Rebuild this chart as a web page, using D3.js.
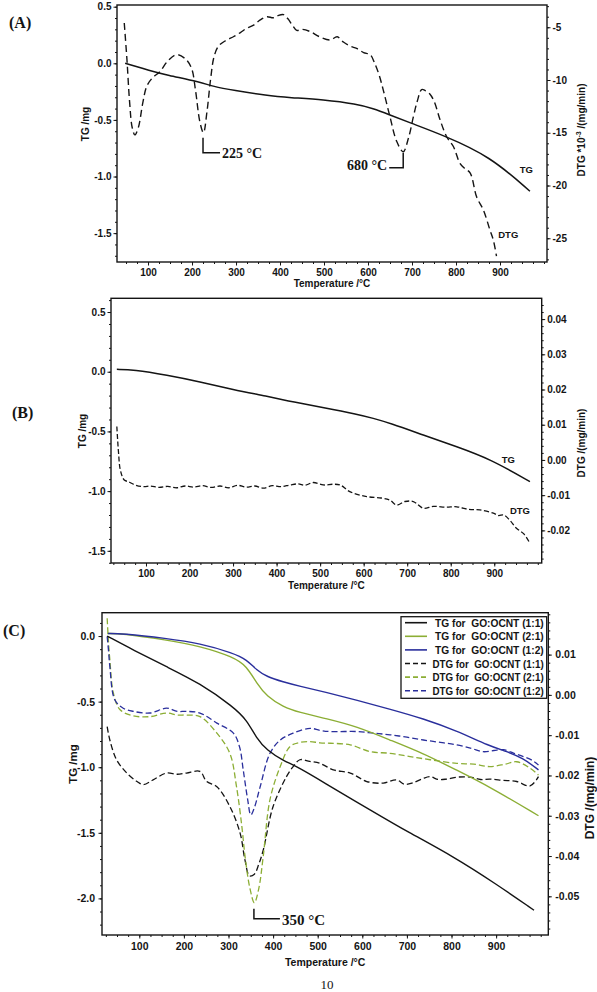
<!DOCTYPE html>
<html><head><meta charset="utf-8">
<script src="https://cdn.jsdelivr.net/npm/d3@7"></script>
<style>body{margin:0;background:#fff}svg{display:block}</style></head>
<body><svg id="c" width="597" height="992"></svg>
<script>
// ---------- DATA ----------
const tempTicks = [100,200,300,400,500,600,700,800,900];
const aTgTicks = [-1.5,-1.0,-0.5,0.0,0.5];
const aDtgTicks = [-25,-20,-15,-10,-5];
const bTgTicks = [-1.5,-1.0,-0.5,0.0,0.5];
const bDtgTicks = [-0.02,-0.01,0.00,0.01,0.02,0.03,0.04];
const cTgTicks = [-2.0,-1.5,-1.0,-0.5,0.0];
const cDtgTicks = [-0.05,-0.04,-0.03,-0.02,-0.01,0.00,0.01];

// Panel A (TG in mg, DTG in 10^-3 mg/min)
const aTgT = [48,105,142,218,248,294,370,423,498,574,612,646,695,771,877,968];
const aTgV = [0,-0.065,-0.103,-0.165,-0.205,-0.238,-0.285,-0.303,-0.322,-0.36,-0.40,-0.45,-0.525,-0.635,-0.82,-1.13];
const aDtgT = [46,52,58,64,70,78,88,97,110,127,145,165,185,199,208,218,226,234,242,250,260,275,294,310,324,340,355,370,385,395,408,418,428,438,450,468,490,514,530,544,560,574,590,605,615,625,635,650,665,680,692,703,712,722,730,740,750,764,779,794,809,820,832,847,862,877,885,892];
const aDtgV = [-4.6,-8,-12,-14.5,-15.2,-14.5,-12.2,-10.6,-9.8,-9.2,-8.2,-7.6,-8.0,-8.9,-11,-14,-15.0,-13,-10.0,-7.8,-6.8,-6.3,-5.9,-5.5,-5.1,-4.8,-4.3,-4.0,-4.1,-3.9,-3.8,-4.2,-4.8,-5.3,-5.2,-5.4,-5.9,-6.2,-5.9,-6.4,-6.8,-7.0,-7.4,-7.6,-8.4,-9.5,-11,-13.5,-15.8,-16.8,-15.5,-13.5,-12,-10.9,-11,-11.3,-12,-13.8,-15.4,-16.3,-17.9,-18.4,-18.8,-21.1,-22.3,-24.2,-25.2,-26.7];

// Panel B (TG in mg, DTG in mg/min)
const bTgT = [33,71,148,224,300,377,440,507,584,622,660,737,814,890,982];
const bTgV = [0.02,0.018,-0.028,-0.084,-0.15,-0.205,-0.255,-0.30,-0.355,-0.39,-0.43,-0.53,-0.628,-0.73,-0.92];
const bDtgT = [33,37,41,50,60,75,95,110,130,150,170,190,210,230,250,270,290,310,330,350,370,390,410,431,450,465,484,507,530,546,568,607,640,660,676,695,714,737,760,790,814,840,867,898,910,921,935,951,968,982];
const bDtgV = [0.0095,0.0019,-0.0028,-0.0057,-0.0062,-0.0071,-0.0076,-0.0074,-0.0078,-0.0075,-0.0079,-0.0074,-0.0077,-0.0073,-0.0078,-0.0074,-0.0079,-0.0072,-0.0077,-0.0074,-0.0080,-0.0073,-0.0076,-0.0071,-0.0068,-0.0072,-0.0064,-0.0071,-0.0069,-0.0071,-0.0090,-0.0104,-0.0108,-0.0114,-0.0128,-0.0118,-0.0118,-0.0137,-0.0132,-0.0134,-0.0133,-0.0140,-0.0142,-0.0151,-0.0158,-0.0156,-0.0170,-0.0194,-0.0210,-0.0237];

// Panel C
const cTg11T = [28,87,161,236,311,341,363,386,423,457,530,620,700,804,900,985];
const cTg11V = [0.0,-0.107,-0.234,-0.36,-0.54,-0.64,-0.78,-0.87,-0.95,-1.0,-1.15,-1.33,-1.49,-1.68,-1.89,-2.09];
const cTg21T = [28,60,161,236,311,341,363,386,423,457,520,588,660,737,810,886,995];
const cTg21V = [0.02,0.02,-0.03,-0.076,-0.16,-0.23,-0.36,-0.46,-0.54,-0.58,-0.63,-0.69,-0.79,-0.895,-1.02,-1.15,-1.37];
const cTg12T = [30,60,161,236,311,341,363,386,423,457,520,588,660,737,810,886,924,960,995];
const cTg12V = [0.02,0.02,-0.018,-0.056,-0.13,-0.18,-0.26,-0.31,-0.35,-0.38,-0.43,-0.49,-0.555,-0.63,-0.72,-0.84,-0.88,-0.93,-1.02];
const cDtg11T = [28,34,49,72,95,109,131,161,185,206,236,251,274,303,326,337,347,358,368,378,400,430,445,460,482,505,535,573,610,647,677,695,714,735,752,770,789,815,842,865,886,915,946,976,995];
const cDtg11V = [-0.0079,-0.0112,-0.0161,-0.0194,-0.0215,-0.0223,-0.0211,-0.0194,-0.0197,-0.0194,-0.019,-0.0215,-0.0228,-0.0277,-0.0343,-0.041,-0.0449,-0.0445,-0.042,-0.0385,-0.0277,-0.0203,-0.0178,-0.0161,-0.0165,-0.017,-0.0186,-0.0194,-0.0215,-0.0219,-0.0211,-0.0222,-0.0218,-0.0208,-0.0203,-0.021,-0.0209,-0.0204,-0.0204,-0.021,-0.0209,-0.0212,-0.0215,-0.0226,-0.0203];
const cDtg21T = [28,31,34,42,57,87,124,161,185,206,236,274,303,318,330,337,348,358,368,378,393,416,438,460,483,505,528,573,618,662,707,752,812,850,886,920,946,976,995];
const cDtg21V = [0.019,0.013,0.0087,0.0004,-0.0037,-0.0052,-0.0054,-0.0045,-0.005,-0.005,-0.0054,-0.0095,-0.0145,-0.0228,-0.0327,-0.040,-0.048,-0.0516,-0.048,-0.040,-0.026,-0.0178,-0.0128,-0.0118,-0.0116,-0.0119,-0.012,-0.0124,-0.0141,-0.0145,-0.0153,-0.0161,-0.017,-0.0172,-0.0178,-0.0172,-0.0166,-0.0182,-0.0199];
const cDtg12T = [28,31,34,45,64,87,124,161,185,206,236,274,311,325,333,343,350,358,371,393,416,445,483,505,528,588,625,662,700,737,775,812,845,871,895,916,940,961,980,995];
const cDtg12V = [0.0145,0.011,0.007,-0.0012,-0.0033,-0.0041,-0.0045,-0.0033,-0.0041,-0.0041,-0.0045,-0.007,-0.0095,-0.013,-0.0186,-0.026,-0.0298,-0.028,-0.0228,-0.0145,-0.0112,-0.0095,-0.0083,-0.0088,-0.0091,-0.0091,-0.0095,-0.0099,-0.0105,-0.0112,-0.0118,-0.0124,-0.0133,-0.0141,-0.0138,-0.0136,-0.0145,-0.0153,-0.0162,-0.0174];

const legendLabels = ["TG for  GO:OCNT (1:1)","TG for  GO:OCNT (2:1)","TG for  GO:OCNT (1:2)","DTG for  GO:OCNT (1:1)","DTG for  GO:OCNT (2:1)","DTG for  GO:OCNT (1:2)"];

// ---------- DRAW ----------
const SANS = "'Liberation Sans', Arial, sans-serif";
const SERIF = "'Liberation Serif', 'Times New Roman', serif";
const INK = "#141414";
const GREEN = "#8cae35";
const BLUE = "#2a2f9c";
const svg = d3.select("#c");
const fmt = s => v => d3.format(s)(v).replace("\u2212","-");
const steps = (lo, hi, st) => d3.range(Math.ceil(lo/st - 1e-9), Math.floor(hi/st + 1e-9) + 1).map(i => +(i*st).toFixed(6));

function drawPanel(p) {
  const x = d3.scaleLinear().domain(p.xDom).range([p.x0, p.x1]);
  const yL = d3.scaleLinear().domain(p.yLDom).range([p.y1, p.y0]);
  const yR = d3.scaleLinear().domain(p.yRDom).range([p.y1, p.y0]);
  const g = svg.append("g");
  const ax = (gen, tr) => {
    const a = g.append("g").attr("transform", tr).call(gen);
    a.select(".domain").remove();
    a.selectAll("text").attr("font-family", SANS).attr("font-weight", "bold")
      .attr("font-size", p.tickFs).attr("fill", INK);
    a.selectAll("line").attr("stroke", INK).attr("stroke-width", 1);
    return a;
  };
  ax(d3.axisBottom(x).tickValues(steps(p.xDom[0], p.xDom[1], 25)).tickSize(2).tickFormat(""), `translate(0,${p.y1})`);
  ax(d3.axisBottom(x).tickValues(tempTicks).tickSize(3.5).tickPadding(p.bPad).tickFormat(d3.format("d")), `translate(0,${p.y1})`);
  ax(d3.axisLeft(yL).tickValues(steps(p.yLDom[0], p.yLDom[1], 0.1)).tickSize(2).tickFormat(""), `translate(${p.x0},0)`);
  ax(d3.axisLeft(yL).tickValues(p.lTicks).tickSize(3.5).tickPadding(p.lPad).tickFormat(fmt(".1f")), `translate(${p.x0},0)`);
  ax(d3.axisRight(yR).tickValues(steps(p.yRDom[0], p.yRDom[1], p.rMinor)).tickSize(2).tickFormat(""), `translate(${p.x1},0)`);
  ax(d3.axisRight(yR).tickValues(p.rTicks).tickSize(3.5).tickPadding(p.rPad).tickFormat(fmt(p.rFmt)), `translate(${p.x1},0)`);

  const clipId = "clip" + p.id;
  g.append("clipPath").attr("id", clipId).append("rect")
    .attr("x", p.x0).attr("y", p.y0).attr("width", p.x1 - p.x0).attr("height", p.y1 - p.y0);
  const sg = g.append("g").attr("clip-path", `url(#${clipId})`);
  p.series.forEach(s => {
    const yy = s.axis === "L" ? yL : yR;
    const pts = s.T.map((t, i) => [t, s.V[i]]);
    const line = d3.line().x(d => x(d[0])).y(d => yy(d[1]))
      .curve(s.dash ? d3.curveCatmullRom.alpha(0.5) : d3.curveBasis);
    sg.append("path").datum(pts).attr("d", line).attr("fill", "none")
      .attr("stroke", s.color).attr("stroke-width", s.w || 1.4)
      .attr("stroke-dasharray", s.dash || null).attr("stroke-linejoin", "round");
  });

  g.append("rect").attr("x", p.x0).attr("y", p.y0).attr("width", p.x1 - p.x0).attr("height", p.y1 - p.y0)
    .attr("fill", "none").attr("stroke", INK).attr("stroke-width", 1.4);

  g.append("text").attr("x", (p.x0 + p.x1) / 2).attr("y", p.y1 + p.xTitleDy)
    .attr("text-anchor", "middle").attr("font-family", SANS).attr("font-weight", "bold")
    .attr("font-size", p.titleFs).attr("fill", INK).text("Temperature /°C");
  g.append("text").attr("transform", `translate(${p.lTitle[0]},${p.lTitle[1]}) rotate(-90)`)
    .attr("text-anchor", "middle").attr("font-family", SANS).attr("font-weight", "bold")
    .attr("font-size", p.lTitleFs).attr("fill", INK).text("TG /mg");
  const rt = g.append("text").attr("transform", `translate(${p.rTitle[0]},${p.rTitle[1]}) rotate(-90)`)
    .attr("text-anchor", "middle").attr("font-family", SANS).attr("font-weight", "bold")
    .attr("font-size", p.rTitleFs).attr("fill", INK);
  if (p.rTitleSup) {
    rt.append("tspan").text("DTG *10");
    rt.append("tspan").attr("font-size", p.rTitleFs * 0.7).attr("dy", -4).text("-3");
    rt.append("tspan").attr("dy", 4).text(" /(mg/min)");
  } else rt.text("DTG /(mg/min)");

  g.append("text").attr("x", p.letter[0]).attr("y", p.letter[1]).attr("font-family", SERIF)
    .attr("font-weight", "bold").attr("font-size", 16).attr("fill", INK).text(p.letterText);

  (p.curveLabels || []).forEach(c => {
    g.append("text").attr("x", x(c.t)).attr("y", (c.axis === "L" ? yL : yR)(c.v))
      .attr("font-family", SANS).attr("font-weight", "bold").attr("font-size", 9.5)
      .attr("fill", INK).text(c.text);
  });

  (p.peaks || []).forEach(a => {
    const px = x(a.t), top = yR(a.v) + a.gap, bot = top + a.len;
    const hx = px + a.dir * a.arm;
    g.append("path").attr("d", `M${px},${top}V${bot}H${hx}`).attr("fill", "none")
      .attr("stroke", INK).attr("stroke-width", 1.5);
    g.append("text").attr("x", hx + a.dir * 2).attr("y", bot + a.tdy)
      .attr("text-anchor", a.dir > 0 ? "start" : "end").attr("font-family", SERIF)
      .attr("font-weight", "bold").attr("font-size", a.fs).attr("fill", INK).text(a.text);
  });
  return {x, yL, yR, g};
}

drawPanel({
  id: "A", x0: 117, x1: 547, y0: 5, y1: 262,
  xDom: [29.5, 1006.8], yLDom: [-1.755, 0.515], yRDom: [-27.25, -2.89],
  lTicks: aTgTicks, rTicks: aDtgTicks, rFmt: "d", rMinor: 1, lPad: 2, rPad: 2, bPad: 3,
  tickFs: 10, titleFs: 10, lTitleFs: 10, rTitleFs: 10,
  xTitleDy: 25, lTitle: [89, 124], rTitle: [585, 130], rTitleSup: true,
  letter: [9, 28], letterText: "(A)",
  series: [
    {T: aTgT, V: aTgV, axis: "L", color: INK, w: 1.5},
    {T: aDtgT, V: aDtgV, axis: "R", color: INK, w: 1.4, dash: "7,4"}
  ],
  curveLabels: [
    {t: 945, v: -0.97, axis: "L", text: "TG"},
    {t: 896, v: -25.0, axis: "R", text: "DTG"}
  ],
  peaks: [
    {t: 225, v: -15.0, gap: 5, len: 15, arm: 17, dir: 1, tdy: 5, fs: 14, text: "225 °C"},
    {t: 680, v: -16.8, gap: 1, len: 15, arm: 14, dir: -1, tdy: 2, fs: 14, text: "680 °C"}
  ]
});

drawPanel({
  id: "B", x0: 111, x1: 541.7, y0: 298.3, y1: 563,
  xDom: [19.6, 1009], yLDom: [-1.602, 0.615], yRDom: [-0.02926, 0.0459],
  lTicks: bTgTicks, rTicks: bDtgTicks, rFmt: ".2f", rMinor: 0.002, lPad: 2, rPad: 2, bPad: 3,
  tickFs: 10, titleFs: 10, lTitleFs: 10, rTitleFs: 10,
  xTitleDy: 26, lTitle: [86, 431], rTitle: [585, 443], rTitleSup: false,
  letter: [12, 418], letterText: "(B)",
  series: [
    {T: bTgT, V: bTgV, axis: "L", color: INK, w: 1.5},
    {T: bDtgT, V: bDtgV, axis: "R", color: INK, w: 1.3, dash: "5,2.5"}
  ],
  curveLabels: [
    {t: 917, v: -0.765, axis: "L", text: "TG"},
    {t: 936, v: -0.0153, axis: "R", text: "DTG"}
  ]
});

const C = drawPanel({
  id: "C", x0: 102, x1: 548.3, y0: 612.7, y1: 935,
  xDom: [16.4, 1017], yLDom: [-2.279, 0.178], yRDom: [-0.0596, 0.0204],
  lTicks: cTgTicks, rTicks: cDtgTicks, rFmt: ".2f", rMinor: 0.002, lPad: 3.5, rPad: 3.5, bPad: 4.5,
  tickFs: 10.5, titleFs: 10.5, lTitleFs: 11.5, rTitleFs: 12,
  xTitleDy: 31, lTitle: [77, 764], rTitle: [594, 798], rTitleSup: false,
  letter: [3, 636], letterText: "(C)",
  series: [
    {T: cDtg11T, V: cDtg11V, axis: "R", color: INK, w: 1.3, dash: "6,3"},
    {T: cDtg21T, V: cDtg21V, axis: "R", color: GREEN, w: 1.3, dash: "6,3"},
    {T: cDtg12T, V: cDtg12V, axis: "R", color: BLUE, w: 1.3, dash: "6,3"},
    {T: cTg11T, V: cTg11V, axis: "L", color: INK, w: 1.4},
    {T: cTg21T, V: cTg21V, axis: "L", color: GREEN, w: 1.4},
    {T: cTg12T, V: cTg12V, axis: "L", color: BLUE, w: 1.4}
  ],
  peaks: [
    {t: 357, v: -0.0516, gap: 6, len: 10, arm: 26, dir: 1, tdy: 6, fs: 15, text: "350 °C"}
  ]
});

// legend (panel C)
{
  const lx0 = 401, ly0 = 616.7, lw = 145.7, lh = 81.6;
  const lg = C.g.append("g");
  lg.append("rect").attr("x", lx0).attr("y", ly0).attr("width", lw).attr("height", lh)
    .attr("fill", "#fff").attr("stroke", INK).attr("stroke-width", 1.3);
  const cols = [INK, GREEN, BLUE, INK, GREEN, BLUE];
  legendLabels.forEach((lab, i) => {
    const yy = ly0 + 6 + i * 13.6;
    lg.append("line").attr("x1", lx0 + 4).attr("x2", lx0 + 26).attr("y1", yy).attr("y2", yy)
      .attr("stroke", cols[i]).attr("stroke-width", 1.6).attr("stroke-dasharray", i > 2 ? "5,3" : null);
    const tx = i > 2 ? lx0 + 31.5 : lx0 + 34;
    lg.append("text").attr("x", tx).attr("y", yy + 4).attr("font-family", SANS)
      .attr("font-weight", "bold").attr("font-size", 11).attr("fill", INK)
      .attr("textLength", lx0 + lw - 3 - tx).attr("lengthAdjust", "spacingAndGlyphs")
      .attr("xml:space", "preserve").text(lab);
  });
}

svg.append("text").attr("x", 327).attr("y", 989).attr("text-anchor", "middle")
  .attr("font-family", SERIF).attr("font-size", 13).attr("fill", INK).text("10");
</script></body></html>
